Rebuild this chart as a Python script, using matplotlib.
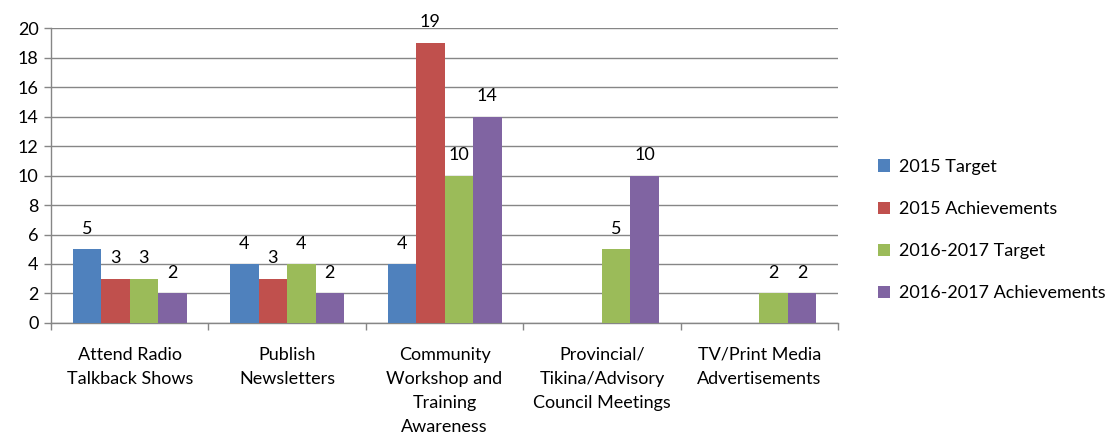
import numpy as np
import matplotlib
matplotlib.use("Agg")
import matplotlib.pyplot as plt

plt.rcParams["font.family"] = ["Lato", "DejaVu Sans"]

categories = ["Attend Radio\nTalkback Shows", "Publish\nNewsletters",
              "Community\nWorkshop and\nTraining\nAwareness",
              "Provincial/\nTikina/Advisory\nCouncil Meetings",
              "TV/Print Media\nAdvertisements"]
series_names = ["2015 Target", "2015 Achievements",
                "2016-2017 Target", "2016-2017 Achievements"]
target_2015 = [5, 4, 4, None, None]
achieve_2015 = [3, 3, 19, None, None]
target_1617 = [3, 4, 10, 5, 2]
achieve_1617 = [2, 2, 14, 10, 2]
colors = ["#4F81BD", "#C0504D", "#9BBB59", "#8064A2"]

series = [target_2015, achieve_2015, target_1617, achieve_1617]

fontsize = 13
axis_color = "#868686"

fig = plt.figure(figsize=(11.18, 4.4), dpi=100)
ax = fig.add_axes([0.0456, 0.266, 0.704, 0.670])

x = np.arange(len(categories))
width = 0.181
for i, (name, vals, c) in enumerate(zip(series_names, series, colors)):
    pos = x + (i - 1.5) * width
    h = [v if v is not None else 0 for v in vals]
    bars = ax.bar(pos, h, width, color=c, label=name, zorder=3)
    for b, v in zip(bars, vals):
        if v is None:
            continue
        ax.annotate(str(v), (b.get_x() + b.get_width() / 2, v),
                    xytext=(0, 9), textcoords="offset points",
                    ha="center", va="bottom", fontsize=fontsize)

ax.set_xlim(-0.5, len(categories) - 0.5)
ax.set_ylim(0, 20)
ax.set_yticks(range(0, 21, 2))
ax.set_xticks(np.arange(len(categories) + 1) - 0.5, minor=True)
ax.set_xticks(x)
ax.set_xticklabels(categories, fontsize=fontsize, linespacing=1.62)
ax.tick_params(axis="x", which="major", length=0, pad=17)
ax.tick_params(axis="x", which="minor", length=5, color=axis_color, width=1)
ax.tick_params(axis="y", length=5, color=axis_color, width=1,
               labelsize=fontsize, pad=4)

ax.grid(True, axis="y", color=axis_color, linewidth=1, zorder=0)
for s in ["top", "right"]:
    ax.spines[s].set_visible(False)
for s in ["left", "bottom"]:
    ax.spines[s].set_color(axis_color)
    ax.spines[s].set_linewidth(1)

ax.legend(loc="center left", bbox_to_anchor=(1.03, 0.315), frameon=False,
          fontsize=fontsize, handlelength=0.65, handleheight=0.65,
          handletextpad=0.5, labelspacing=1.45)

fig.savefig("out.png", dpi=100)
